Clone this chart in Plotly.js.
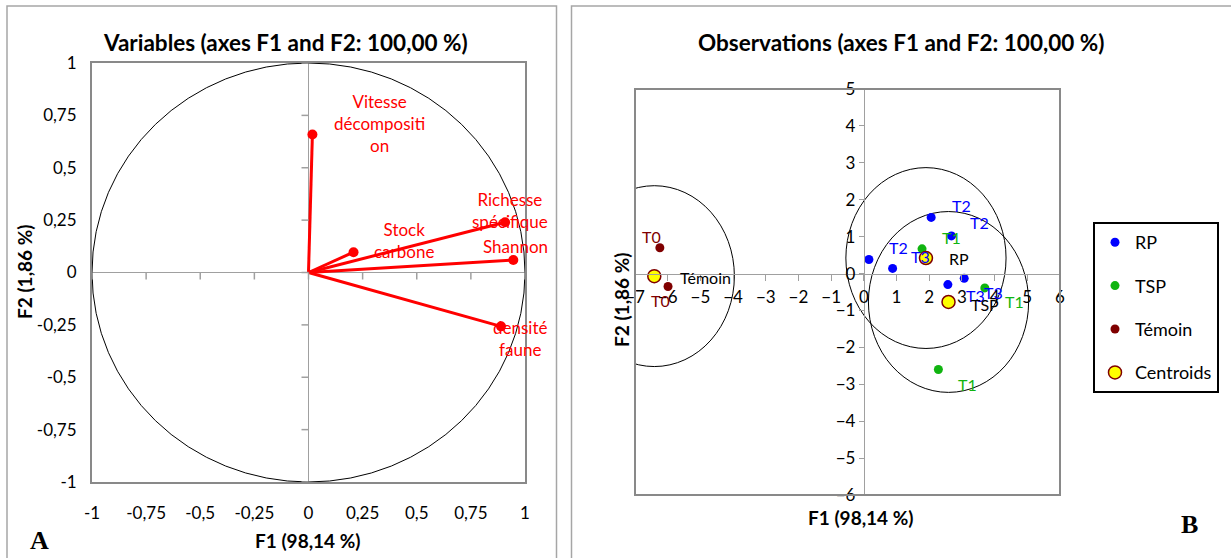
<!DOCTYPE html>
<html>
<head>
<meta charset="utf-8">
<script src="https://cdn.plot.ly/plotly-3.0.1.min.js"></script>
<style>html,body{margin:0;padding:0;background:#fff;}#chart{width:1231px;height:558px;}</style>
</head>
<body>
<div id="chart"></div>
<script>
// ---------- Panel A: variables (correlation circle) ----------
const varNames = ['Vitesse<br>décompositi<br>on', 'Richesse<br>spécifique', 'Stock<br>carbone', 'Shannon', 'densité<br>faune'];
const varF1 = [0.018, 0.908, 0.208, 0.946, 0.889];
const varF2 = [0.659, 0.240, 0.097, 0.060, -0.257];
const ticksA = [-1, -0.75, -0.5, -0.25, 0, 0.25, 0.5, 0.75, 1];
const tickTextA = ['-1', '-0,75', '-0,5', '-0,25', '0', '0,25', '0,5', '0,75', '1'];

// ---------- Panel B: observations ----------
const rpF1 = [2.06, 2.68, 0.155, 0.88, 3.07, 2.57];
const rpF2 = [1.52, 1.02, 0.38, 0.14, -0.13, -0.30];
const rpLab = ['T2', 'T2', 'T2', 'T3', 'T3', 'T3'];
const tspF1 = [1.78, 3.70, 2.28];
const tspF2 = [0.67, -0.39, -2.60];
const tspLab = ['T1', 'T1', 'T1'];
const temF1 = [-6.24, -5.99, -7.03];
const temF2 = [0.70, -0.35, -0.51];
const temLab = ['T0', 'T0', 'T0'];
const cenNames = ['RP', 'TSP', 'Témoin'];
const cenF1 = [1.90, 2.59, -6.41];
const cenF2 = [0.42, -0.77, -0.07];
const ellipseRadius = 2.45;
const ticksBx = [-7, -6, -5, -4, -3, -2, -1, 0, 1, 2, 3, 4, 5, 6];
const ticksBy = [-6, -5, -4, -3, -2, -1, 0, 1, 2, 3, 4, 5];

// ---------- styles ----------
const FONT = 'Lato, "Open Sans", sans-serif';
const RED = '#FF0000', BLUE = '#0000FF', GREEN = '#10B410', DRED = '#7F0000';
const W = 1231, H = 558;
const px = v => v / W, py = v => 1 - v / H;

// label pixel offsets (style)
const varOff = [[67, 11], [5, 12], [50, 12], [2, 13], [19, -12]];
const rpOff = [[30, 12], [28, 13], [30, 12], [28, 12], [29, -14], [28, -11]];
const tspOff = [[29, 11], [30, -14], [29, -15]];
const temOff = [[-8, 11], [-8, -14], [-7, -13]];
const cenOff = [[33, 0], [36, -3], [51, -1]];

const traces = [];
// arrows (lines from origin)
const ax = [], ay = [];
varF1.forEach((v, i) => { ax.push(0, v, null); ay.push(0, varF2[i], null); });
traces.push({x: ax, y: ay, xaxis: 'x', yaxis: 'y', mode: 'lines', line: {color: RED, width: 3}, showlegend: false, hoverinfo: 'skip'});
traces.push({x: varF1, y: varF2, xaxis: 'x', yaxis: 'y', mode: 'markers', marker: {color: RED, size: 10}, showlegend: false});

traces.push({name: 'RP', legendgroup: 'a', x: rpF1, y: rpF2, xaxis: 'x2', yaxis: 'y2', mode: 'markers', marker: {color: BLUE, size: 9}});
traces.push({name: 'TSP', legendgroup: 'b', x: tspF1, y: tspF2, xaxis: 'x2', yaxis: 'y2', mode: 'markers', marker: {color: GREEN, size: 9}});
traces.push({name: 'Témoin', legendgroup: 'c', x: temF1, y: temF2, xaxis: 'x2', yaxis: 'y2', mode: 'markers', cliponaxis: false, marker: {color: DRED, size: 9}});
traces.push({name: 'Centroids', legendgroup: 'd', x: cenF1, y: cenF2, xaxis: 'x2', yaxis: 'y2', mode: 'markers', marker: {color: '#FFFF00', size: 13, line: {color: DRED, width: 1.5}}});

const annotations = [];
varNames.forEach((t, i) => annotations.push({xref: 'x', yref: 'y', x: varF1[i], y: varF2[i], text: t, showarrow: false, xanchor: 'center', yanchor: 'middle', xshift: varOff[i][0], yshift: varOff[i][1], font: {family: FONT, size: 17, color: RED}}));
function addLabels(xs, ys, labs, offs, color) {
  labs.forEach((t, i) => annotations.push({xref: 'x2', yref: 'y2', x: xs[i], y: ys[i], text: t, showarrow: false, xanchor: 'center', yanchor: 'middle', xshift: offs[i][0], yshift: offs[i][1], font: {family: FONT, size: 16, color: color}}));
}
addLabels(rpF1, rpF2, rpLab, rpOff, BLUE);
addLabels(tspF1, tspF2, tspLab, tspOff, GREEN);
addLabels(temF1, temF2, temLab, temOff, DRED);
addLabels(cenF1, cenF2, cenNames, cenOff, '#000000');

// titles and axis titles
const tfont = {family: FONT, size: 22.5, color: '#000'};
const afont = {family: FONT, size: 19, color: '#000'};
function paperText(x, y, text, font, angle) {
  annotations.push({xref: 'paper', yref: 'paper', x: px(x), y: py(y), text: text, showarrow: false, xanchor: 'center', yanchor: 'middle', textangle: angle || 0, font: font});
}
paperText(285, 42, '<b>Variables (axes F1 and F2: 100,00 %)</b>', tfont);
paperText(901, 42, '<b>Observations (axes F1 and F2: 100,00 %)</b>', tfont);
paperText(308, 540, '<b>F1 (98,14 %)</b>', afont);
paperText(861, 517, '<b>F1 (98,14 %)</b>', afont);
paperText(25, 272, '<b>F2 (1,86 %)</b>', afont, -90);
paperText(621, 300, '<b>F2 (1,86 %)</b>', afont, -90);
paperText(40, 540, '<b>A</b>', {family: '"Liberation Serif", serif', size: 26, color: '#000'});
paperText(1189, 524, '<b>B</b>', {family: '"Liberation Serif", serif', size: 26, color: '#000'});

const shapes = [];
// panel frames
shapes.push({type: 'rect', xref: 'paper', yref: 'paper', x0: px(7), x1: px(556.5), y0: py(575), y1: py(6), line: {color: '#A6A6A6', width: 1.5}});
shapes.push({type: 'rect', xref: 'paper', yref: 'paper', x0: px(571.5), x1: px(1245), y0: py(575), y1: py(6), line: {color: '#A6A6A6', width: 1.5}});
// unit circle
shapes.push({type: 'circle', xref: 'x', yref: 'y', x0: -1, x1: 1, y0: -1, y1: 1, line: {color: '#000', width: 1}});
// tick marks on the zero lines of panel A
ticksA.forEach(v => {
  shapes.push({type: 'line', xref: 'x', yref: 'y', ysizemode: 'pixel', yanchor: 0, x0: v, x1: v, y0: 0, y1: -7, line: {color: '#A0A0A0', width: 1.5}});
  shapes.push({type: 'line', xref: 'x', yref: 'y', xsizemode: 'pixel', xanchor: 0, y0: v, y1: v, x0: 0, x1: -7, line: {color: '#A0A0A0', width: 1.5}});
});
// panel B box
shapes.push({type: 'rect', xref: 'x2 domain', yref: 'y2 domain', x0: 0, x1: 1, y0: 0, y1: 1, line: {color: '#898989', width: 2}});
// confidence circles around centroids
cenF1.forEach((cx, i) => shapes.push({type: 'circle', xref: 'x2', yref: 'y2', x0: cx - ellipseRadius, x1: cx + ellipseRadius, y0: cenF2[i] - ellipseRadius, y1: cenF2[i] + ellipseRadius, line: {color: '#000', width: 1}, layer: 'below'}));

const yDomB = [py(495), py(89)];
const xDomB = [px(635), px(1060)];
const posX0 = xDomB[0] + (7 / 13) * (xDomB[1] - xDomB[0]);
const posY0 = yDomB[0] + (6 / 11) * (yDomB[1] - yDomB[0]);

const tickfont = {family: FONT, size: 17, color: '#000'};
const layout = {
  width: W, height: H,
  margin: {l: 0, r: 0, t: 0, b: 0},
  paper_bgcolor: '#fff', plot_bgcolor: '#fff',
  showlegend: true,
  font: {family: FONT},
  xaxis: {domain: [px(92), px(525)], range: [-1, 1], tickvals: ticksA, ticktext: tickTextA, showline: true, mirror: true, linecolor: '#898989', linewidth: 2,
          ticks: 'outside', ticklen: 15, tickcolor: 'rgba(0,0,0,0)', showgrid: false, zeroline: true, zerolinecolor: '#A0A0A0', zerolinewidth: 1.5, tickfont: tickfont, anchor: 'y', fixedrange: true},
  yaxis: {domain: [py(482), py(63)], range: [-1, 1], tickvals: ticksA, ticktext: tickTextA, showline: true, mirror: true, linecolor: '#898989', linewidth: 2,
          ticks: 'outside', ticklen: 10, tickcolor: 'rgba(0,0,0,0)', showgrid: false, zeroline: true, zerolinecolor: '#A0A0A0', zerolinewidth: 1.5, tickfont: tickfont, anchor: 'x', fixedrange: true},
  xaxis2: {domain: xDomB, range: [-7, 6], tickvals: ticksBx, showline: true, linecolor: '#A0A0A0', linewidth: 1.5, ticks: 'outside', ticklen: 6, tickcolor: '#A0A0A0',
           showgrid: false, zeroline: false, tickfont: tickfont, anchor: 'free', position: posY0, ticklabelstandoff: 2, fixedrange: true},
  yaxis2: {domain: yDomB, range: [-6, 5], tickvals: ticksBy, showline: true, linecolor: '#A0A0A0', linewidth: 1.5, ticks: 'outside', ticklen: 5, tickcolor: '#A0A0A0',
           showgrid: false, zeroline: false, tickfont: tickfont, anchor: 'free', position: posX0, fixedrange: true},
  legend: {x: px(1093), y: py(222), xanchor: 'left', yanchor: 'top', bordercolor: '#000', borderwidth: 2, bgcolor: '#fff',
           font: {family: FONT, size: 18, color: '#000'}, tracegroupgap: 17, itemwidth: 30},
  annotations: annotations,
  shapes: shapes
};

Plotly.newPlot('chart', traces, layout, {displayModeBar: false, staticPlot: true});
</script>
</body>
</html>
